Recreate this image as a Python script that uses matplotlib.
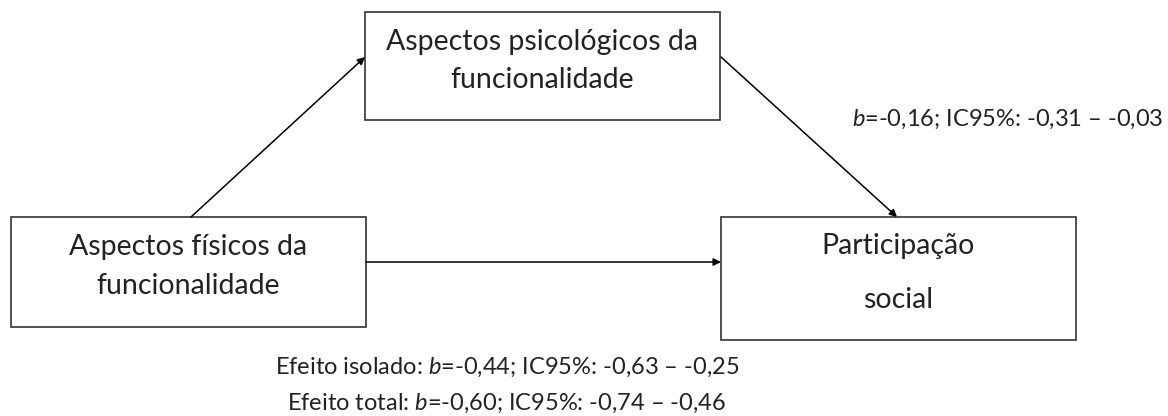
import matplotlib.pyplot as plt
from matplotlib.patches import Rectangle

plt.rcParams["mathtext.fontset"] = "custom"
plt.rcParams["mathtext.it"] = "Lato:italic"
plt.rcParams["mathtext.rm"] = "Lato"

# node labels (one entry per text line)
box_lines = [
    ["Aspectos psicológicos da", "funcionalidade"],
    ["Aspectos físicos da", "funcionalidade"],
    ["Participação", "social"],
]
# path coefficients
path_b = ["-0,16"]
path_ci = [("-0,31", "-0,03")]
effect_names = ["Efeito isolado", "Efeito total"]
effect_b = ["-0,44", "-0,60"]
effect_ci = [("-0,63", "-0,25"), ("-0,74", "-0,46")]

W, H = 1168, 416
fig = plt.figure(figsize=(W / 100, H / 100), dpi=100)
ax = fig.add_axes([0, 0, 1, 1])
ax.set_xlim(0, W)
ax.set_ylim(H, 0)
ax.axis("off")

FONT = "Lato"
TXT = "#222222"
FS = 20.5
FS_SMALL = 17

# boxes: x0, y0, x1, y1 in pixel coords, plus y of each text line
boxes = [(365, 12, 720, 120), (11, 217, 366, 327), (721, 217, 1076, 340)]
line_y = [(42, 80), (247, 286), (246, 300)]
for (x0, y0, x1, y1), lines, ys in zip(boxes, box_lines, line_y):
    ax.add_patch(Rectangle((x0, y0), x1 - x0, y1 - y0, fill=False,
                           edgecolor="#333333", lw=1.2))
    for s, y in zip(lines, ys):
        ax.text((x0 + x1) / 2, y, s, ha="center", va="center", fontsize=FS,
                color=TXT, family=FONT)

# arrows
arrows = [((191, 217), (365, 57)), ((721, 57), (897, 217)), ((366, 262), (721, 262))]
for start, end in arrows:
    ax.annotate("", xy=end, xytext=start,
                arrowprops=dict(arrowstyle="-|>", color="black", lw=1.1,
                                mutation_scale=11, shrinkA=0, shrinkB=0))

# coefficient labels
def coef(name, b, ci):
    prefix = f"{name}: " if name else ""
    return prefix + r"$\it{b}$" + f"={b}; IC95%: {ci[0]} – {ci[1]}"

ax.text(1163, 119, coef("", path_b[0], path_ci[0]), ha="right", va="center",
        fontsize=FS_SMALL, color=TXT, family=FONT)
for i, (n, b, ci) in enumerate(zip(effect_names, effect_b, effect_ci)):
    ax.text(507, 367 + 36 * i, coef(n, b, ci), ha="center", va="center",
            fontsize=FS_SMALL, color=TXT, family=FONT)

fig.savefig("out.png", dpi=100, facecolor="white")
